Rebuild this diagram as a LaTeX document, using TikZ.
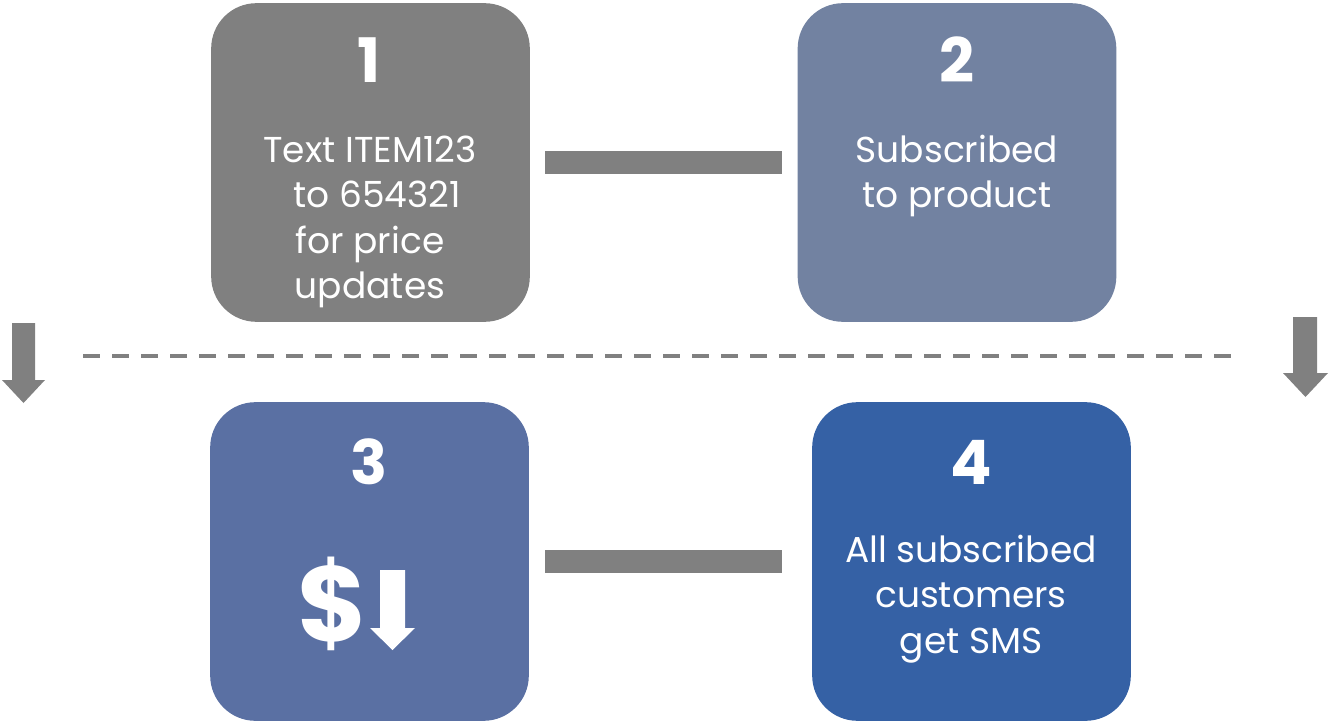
\documentclass[tikz,border=0pt]{standalone}
\usepackage{fontspec}
\setmainfont{Poppins}
\definecolor{stepgray}{HTML}{808080}
\definecolor{stepslate}{HTML}{7282A1}
\definecolor{stepsteel}{HTML}{5A70A3}
\definecolor{stepblue}{HTML}{3561A5}
\tikzset{
  stepbox/.style={rectangle, rounded corners=34pt, minimum width=239pt, minimum height=239pt, inner sep=0pt, draw=none},
  stepnum/.style={text=white, font=\fontsize{46}{50}\selectfont\bfseries, inner sep=0pt},
  steptext/.style={text=white, font=\fontsize{27}{34}\selectfont, align=center, inner sep=0pt},
  linkbar/.style={draw=stepgray, line width=17.25pt},
  dropline/.style={draw=stepgray, line width=3pt, dash pattern=on 12.75pt off 9pt},
  droparrow/.style={fill=stepgray, draw=none}
}
\begin{document}
\begin{tikzpicture}[x=0.75pt, y=-0.75pt]
\useasboundingbox (0,0) rectangle (1329,724);

% step boxes
\node[stepbox, fill=stepgray]  (b1) at (370.5,162.5) {};
\node[stepbox, fill=stepslate] (b2) at (957,162.5) {};
\node[stepbox, fill=stepsteel] (b3) at (369.5,561.5) {};
\node[stepbox, fill=stepblue]  (b4) at (971.5,561.5) {};

% step numbers
\node[stepnum] (n1) at (369,60) {1};
\node[stepnum] (n2) at (957,60) {2};
\node[stepnum] (n3) at (369,462) {3};
\node[stepnum] (n4) at (971,462) {4};

% step descriptions
\node[steptext] (t1) at (370,222) {Text ITEM123\\\hspace*{0.4em}to 654321\\for price\\updates};
\node[steptext] (t2) at (957,176) {Subscribed\\to product};
\node[steptext] (t4) at (971,599) {All subscribed\\customers\\get SMS};

% price drop: dollar sign and down arrow
\node[text=white, font=\fontsize{80}{80}\selectfont\bfseries, inner sep=0pt] (dollar) at (333,604) {\$};
\fill[white] (380,570) -- (405,570) -- (405,628) -- (415,628) -- (392.5,650) -- (370,628) -- (380,628) -- cycle;

% links between boxes
\draw[linkbar, shorten <=11.25pt, shorten >=11.25pt] (b1.east) -- (b2.west);
\draw[linkbar, shorten <=12pt, shorten >=22.5pt] (b3.east) -- (b4.west);

% dashed separator between the rows
\coordinate (dl) at (83,356);
\coordinate (dr) at (1237,356);
\draw[dropline] (dl) -- (dr);

% side arrows
\fill[droparrow] (12,323) -- (35,323) -- (35,380) -- (45,380) -- (23.5,403) -- (2,380) -- (12,380) -- cycle;
\fill[droparrow] (1293,317) -- (1317,317) -- (1317,373) -- (1328,373) -- (1305.5,397) -- (1283,373) -- (1293,373) -- cycle;
\end{tikzpicture}
\end{document}
